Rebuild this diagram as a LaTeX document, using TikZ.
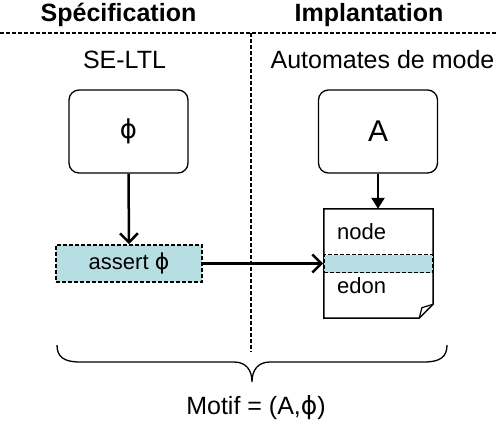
\documentclass[tikz,border=0pt]{standalone}
\usepackage{fontspec}
\setmainfont{Liberation Sans}
\newfontfamily\phifont{DejaVu Sans}
\newcommand{\myphi}{{\phifont ϕ}}
\usetikzlibrary{arrows.meta}
\definecolor{bandcol}{RGB}{183,222,226}
\begin{document}
\begin{tikzpicture}[x=1pt,y=-1pt,
  title/.style={font=\fontsize{25}{30}\selectfont\bfseries, anchor=base, inner sep=0pt},
  lbl/.style={font=\fontsize{25}{30}\selectfont, anchor=base, inner sep=0pt},
  small/.style={font=\fontsize{22}{26}\selectfont, inner sep=0pt},
  rbox/.style={draw, rounded corners=10pt, line width=1.3pt, minimum width=119pt, minimum height=83pt},
  dbox/.style={draw, fill=bandcol, line width=1.8pt, dash pattern=on 4pt off 2pt, inner sep=0pt},
  sep/.style={line width=2.2pt, dash pattern=on 4pt off 2pt},
  conn/.style={line width=2.5pt, -{Straight Barb[length=9pt,width=18pt]}},
  fconn/.style={line width=2.5pt, -{Triangle[length=11pt,width=13pt]}}]
\useasboundingbox (0,0) rectangle (497,428);

% headers and separators
\node[title] (spec) at (118.5,21.7) {Spécification};
\node[title] (impl) at (369,21.7) {Implantation};
\coordinate (hl) at (0,33);
\coordinate (hr) at (497,33);
\coordinate (vt) at (251,33);
\coordinate (vb) at (251,352);
\draw[sep] (hl) -- (hr);
\draw[sep] (vt) -- (vb);

\node[lbl] (se) at (124.5,68.3) {SE-LTL};
\node[lbl] (auto) at (382.5,68.3) {Automates de mode};

% boxes
\node[rbox, font=\fontsize{26}{30}\selectfont] (phi) at (128.5,131.5) {\myphi};
\node[rbox, font=\fontsize{30}{34}\selectfont] (A) at (378,131.5) {A};
\node[dbox, small, minimum width=146pt, minimum height=37pt] (assert) at (129,263.5) {assert \myphi};

% document
\node[minimum width=109pt, minimum height=109pt, inner sep=0pt] (doc) at (378.5,263.5) {};
\draw[line width=1.5pt] (doc.north west) -- (doc.north east) -- ([yshift=14pt]doc.south east)
  -- ([xshift=-14pt]doc.south east) -- (doc.south west) -- cycle;
\draw[line width=1.2pt] ([xshift=-14pt]doc.south east) -- ([xshift=-11.3pt,yshift=10.5pt]doc.south east)
  -- ([yshift=14pt]doc.south east);
\node[dbox, minimum width=109pt, minimum height=18pt] (band) at (378.5,263.5) {};
\node[small, anchor=base west] (nodet) at (337,239.3) {node};
\node[small, anchor=base west] (edont) at (337,293.5) {edon};

% connectors
\draw[conn] (phi.south) -- (assert.north);
\draw[fconn] (A.south) -- (A.south |- doc.north);
\draw[conn] (assert.east) -- (band.west);

% brace
\draw[line width=1.3pt] (57,345) .. controls (57,357) and (64,362) .. (80,362)
  -- (234,362) .. controls (246,362) and (252,370) .. (252,382)
  .. controls (252,370) and (258,362) .. (270,362)
  -- (424,362) .. controls (440,362) and (447,357) .. (447,345);

\node[lbl] (motif) at (256,414) {Motif = (A,\myphi)};
\end{tikzpicture}
\end{document}
